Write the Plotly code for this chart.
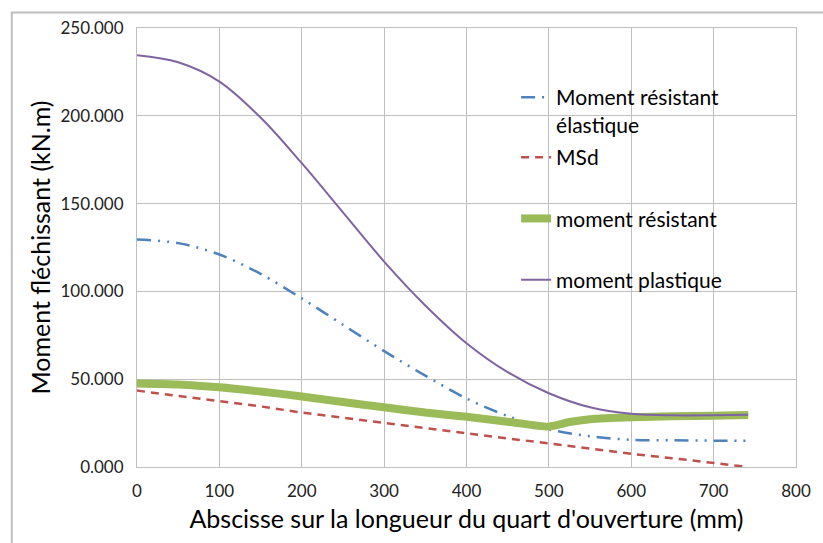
import plotly.graph_objects as go

# Abscissa along the quarter-span (mm)
x_pts = [0, 50, 100, 150, 200, 250, 300, 350, 400, 450, 500, 550, 600, 650, 700, 742]

# Bending moments (kN.m)
m_elastique = [129.5, 127.5, 121.0, 110.0, 96.0, 81.0, 66.0, 52.0, 39.0, 29.0, 21.5, 17.5, 15.5, 15.2, 15.0, 15.0]
m_sd = [43.5, 40.5, 37.5, 34.5, 31.0, 28.0, 25.0, 22.0, 19.0, 16.2, 13.5, 10.5, 7.5, 5.0, 2.5, 0.0]
m_plastique = [234.5, 230.5, 219.5, 199.0, 173.0, 145.0, 117.0, 92.0, 70.5, 54.0, 42.0, 34.0, 30.3, 29.4, 29.5, 29.8]

# Resisting moment: has a kink at x = 500
x_res = [0, 50, 100, 150, 200, 250, 300, 350, 400, 450, 500, 525, 550, 600, 650, 700, 742]
m_resistant = [47.6, 47.0, 45.4, 43.0, 40.2, 37.0, 34.0, 31.0, 28.6, 25.8, 23.0, 25.6, 27.2, 28.4, 28.9, 29.2, 29.6]

x_ticks = [0, 100, 200, 300, 400, 500, 600, 700, 800]
y_ticks = [0, 50, 100, 150, 200, 250]

FONT = "Lato"
GRID = "#BFBFBF"

fig = go.Figure()

fig.add_trace(go.Scatter(
    x=x_pts, y=m_elastique, mode="lines", name="Moment résistant<br>élastique",
    legend="legend",
    line=dict(color="#4F81BD", width=2.5, shape="spline", smoothing=0.9,
              dash="14px,7px,2px,7px,2px,7px"),
))
fig.add_trace(go.Scatter(
    x=x_pts, y=m_sd, mode="lines", name="MSd", legend="legend2", legendgroup="b",
    line=dict(color="#C0504D", width=2.5, dash="8px,6px"),
))
fig.add_trace(go.Scatter(
    x=x_res, y=m_resistant, mode="lines", name="moment résistant",
    legend="legend2", legendgroup="c",
    line=dict(color="#9BBB59", width=8, shape="spline", smoothing=0.6),
))
fig.add_trace(go.Scatter(
    x=x_pts, y=m_plastique, mode="lines", name="moment plastique",
    legend="legend2", legendgroup="d",
    line=dict(color="#8064A2", width=2, shape="spline", smoothing=1.0),
))

# Plot area in pixels (for the outer chart frame and legend placement)
L, R, T, B = 137, 808, 28, 467
W, H = R - L, B - T


def px_x(p):
    return (p - L) / W


def px_y(p):
    return (B - p) / H


fig.add_shape(type="rect", xref="paper", yref="paper",
              x0=px_x(9.5), x1=px_x(840), y0=px_y(560), y1=px_y(12.5),
              line=dict(color="#BEBEBE", width=2), fillcolor="rgba(0,0,0,0)",
              layer="below")

legend_common = dict(
    xanchor="left", yanchor="top", valign="top",
    font=dict(family=FONT, size=21, color="#000000"),
    bgcolor="rgba(0,0,0,0)", itemwidth=30,
)

fig.update_layout(
    width=823, height=543,
    margin=dict(l=L, r=823 - R, t=T, b=543 - B),
    paper_bgcolor="white", plot_bgcolor="white",
    font=dict(family=FONT, color="#000000"),
    showlegend=True,
    legend=dict(x=px_x(523), y=px_y(77), **legend_common),
    legend2=dict(x=px_x(523), y=px_y(137), traceorder="grouped",
                 tracegroupgap=31, **legend_common),
    xaxis=dict(
        range=[0, 800], tickvals=x_ticks, ticktext=[str(v) for v in x_ticks],
        showgrid=True, gridcolor=GRID, gridwidth=1,
        showline=True, linecolor=GRID, linewidth=1, mirror=True,
        ticks="", ticklabelstandoff=9, zeroline=False,
        tickfont=dict(family=FONT, size=17, color="#222222"),
        title=dict(text="Abscisse sur la longueur du quart d'ouverture (mm)",
                   font=dict(family=FONT, size=25, color="#000000"), standoff=10),
    ),
    yaxis=dict(
        range=[0, 250], tickvals=y_ticks, tickformat=".3f",
        showgrid=True, gridcolor=GRID, gridwidth=1,
        showline=True, linecolor=GRID, linewidth=1, mirror=True,
        ticks="", ticklabelstandoff=9, zeroline=False,
        tickfont=dict(family=FONT, size=17, color="#222222"),
        title=dict(text="Moment fléchissant (kN.m)",
                   font=dict(family=FONT, size=25, color="#000000"), standoff=2),
    ),
)

fig.write_html("out.html")
